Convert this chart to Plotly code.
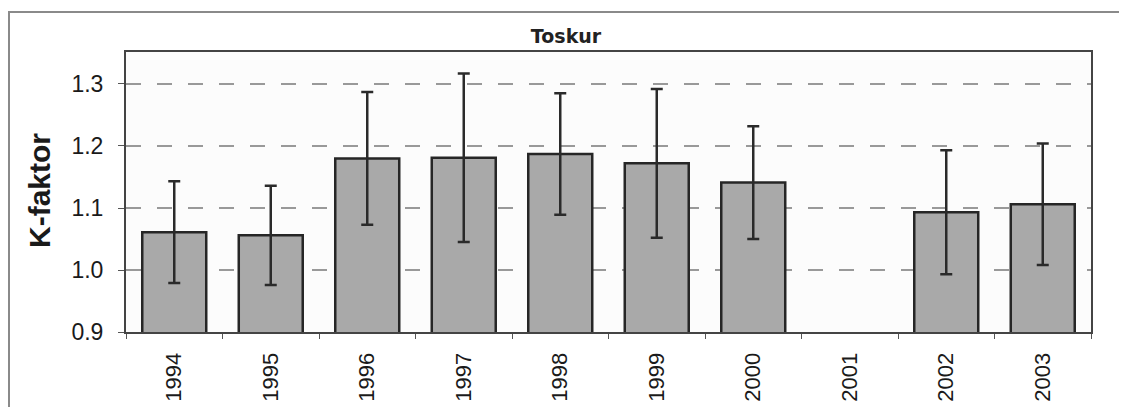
import plotly.graph_objects as go

years = ["1994", "1995", "1996", "1997", "1998", "1999", "2000", "2001", "2002", "2003"]
k_mean = [1.061, 1.056, 1.180, 1.181, 1.187, 1.172, 1.141, None, 1.093, 1.106]
k_sd = [0.082, 0.080, 0.107, 0.136, 0.098, 0.120, 0.091, None, 0.100, 0.098]
y_ticks = [0.9, 1.0, 1.1, 1.2, 1.3]
y_labels = ["0.9", "1.0", "1.1", "1.2", "1.3"]

# page body has an 8px default margin; figure is sized to fill the rest of the window
OFF = 8
W, H = 1127 - OFF, 407 - OFF
# plot area in window pixels: x 126..1091, y 52..332
L, T = 126 - OFF, 52 - OFF
R = W - (1091 - OFF)
B = H - (332 - OFF)
pw, ph = W - L - R, H - T - B


def px_x(p):
    return (p - OFF - L) / pw


def px_y(p):
    return (H - B - (p - OFF)) / ph


fig = go.Figure()
fig.add_trace(go.Bar(
    x=years, y=k_mean,
    marker=dict(color="#a9a9a9", line=dict(color="#262626", width=2.5)),
    error_y=dict(type="data", array=k_sd, visible=True, color="#2a2a2a", thickness=2.5, width=6),
    showlegend=False,
))

fig.update_layout(
    width=W, height=H,
    margin=dict(l=L, r=R, t=T, b=B, autoexpand=False),
    paper_bgcolor="white",
    plot_bgcolor="#fcfcfc",
    bargap=0.337,
    font=dict(family="Liberation Sans, Arial, sans-serif", color="#1a1a1a"),
    title=dict(text="<b>Toskur</b>", x=px_x(566), xref="paper", xanchor="center",
               y=1 - (36.5 - OFF) / H, yref="container", yanchor="middle",
               automargin=False,
               font=dict(family="DejaVu Sans", size=19, color="#222")),
    xaxis=dict(
        type="category", range=[-0.5, 9.5], automargin=False,
        tickangle=-90, tickfont=dict(size=22, color="#1a1a1a"),
        ticks="outside", ticklen=5, tickcolor="#555", tickson="boundaries",
        showline=True, linecolor="#444", linewidth=2, mirror=True,
        showgrid=False, ticklabelstandoff=10,
    ),
    yaxis=dict(
        range=[0.9, 1.3516], tickvals=y_ticks, ticktext=y_labels, automargin=False,
        tickfont=dict(size=23, color="#1a1a1a"),
        ticks="outside", ticklen=6, tickcolor="#555",
        showline=True, linecolor="#444", linewidth=2, mirror=True,
        showgrid=True, gridcolor="#999999", gridwidth=2, griddash="15px,16px",
        zeroline=False, ticklabelstandoff=10,
    ),
    shapes=[dict(type="rect", xref="paper", yref="paper",
                 x0=px_x(9), x1=px_x(1122), y0=px_y(430), y1=px_y(12),
                 line=dict(color="#8a8a8a", width=2), layer="below")],
    annotations=[dict(text="<b>K-faktor</b>", xref="paper", yref="paper",
                      x=px_x(39), y=px_y(191), textangle=-90, showarrow=False,
                      xanchor="center", yanchor="middle",
                      font=dict(family="Liberation Sans, Arial, sans-serif", size=30, color="#1a1a1a"))],
)

fig.write_html("out.html")
